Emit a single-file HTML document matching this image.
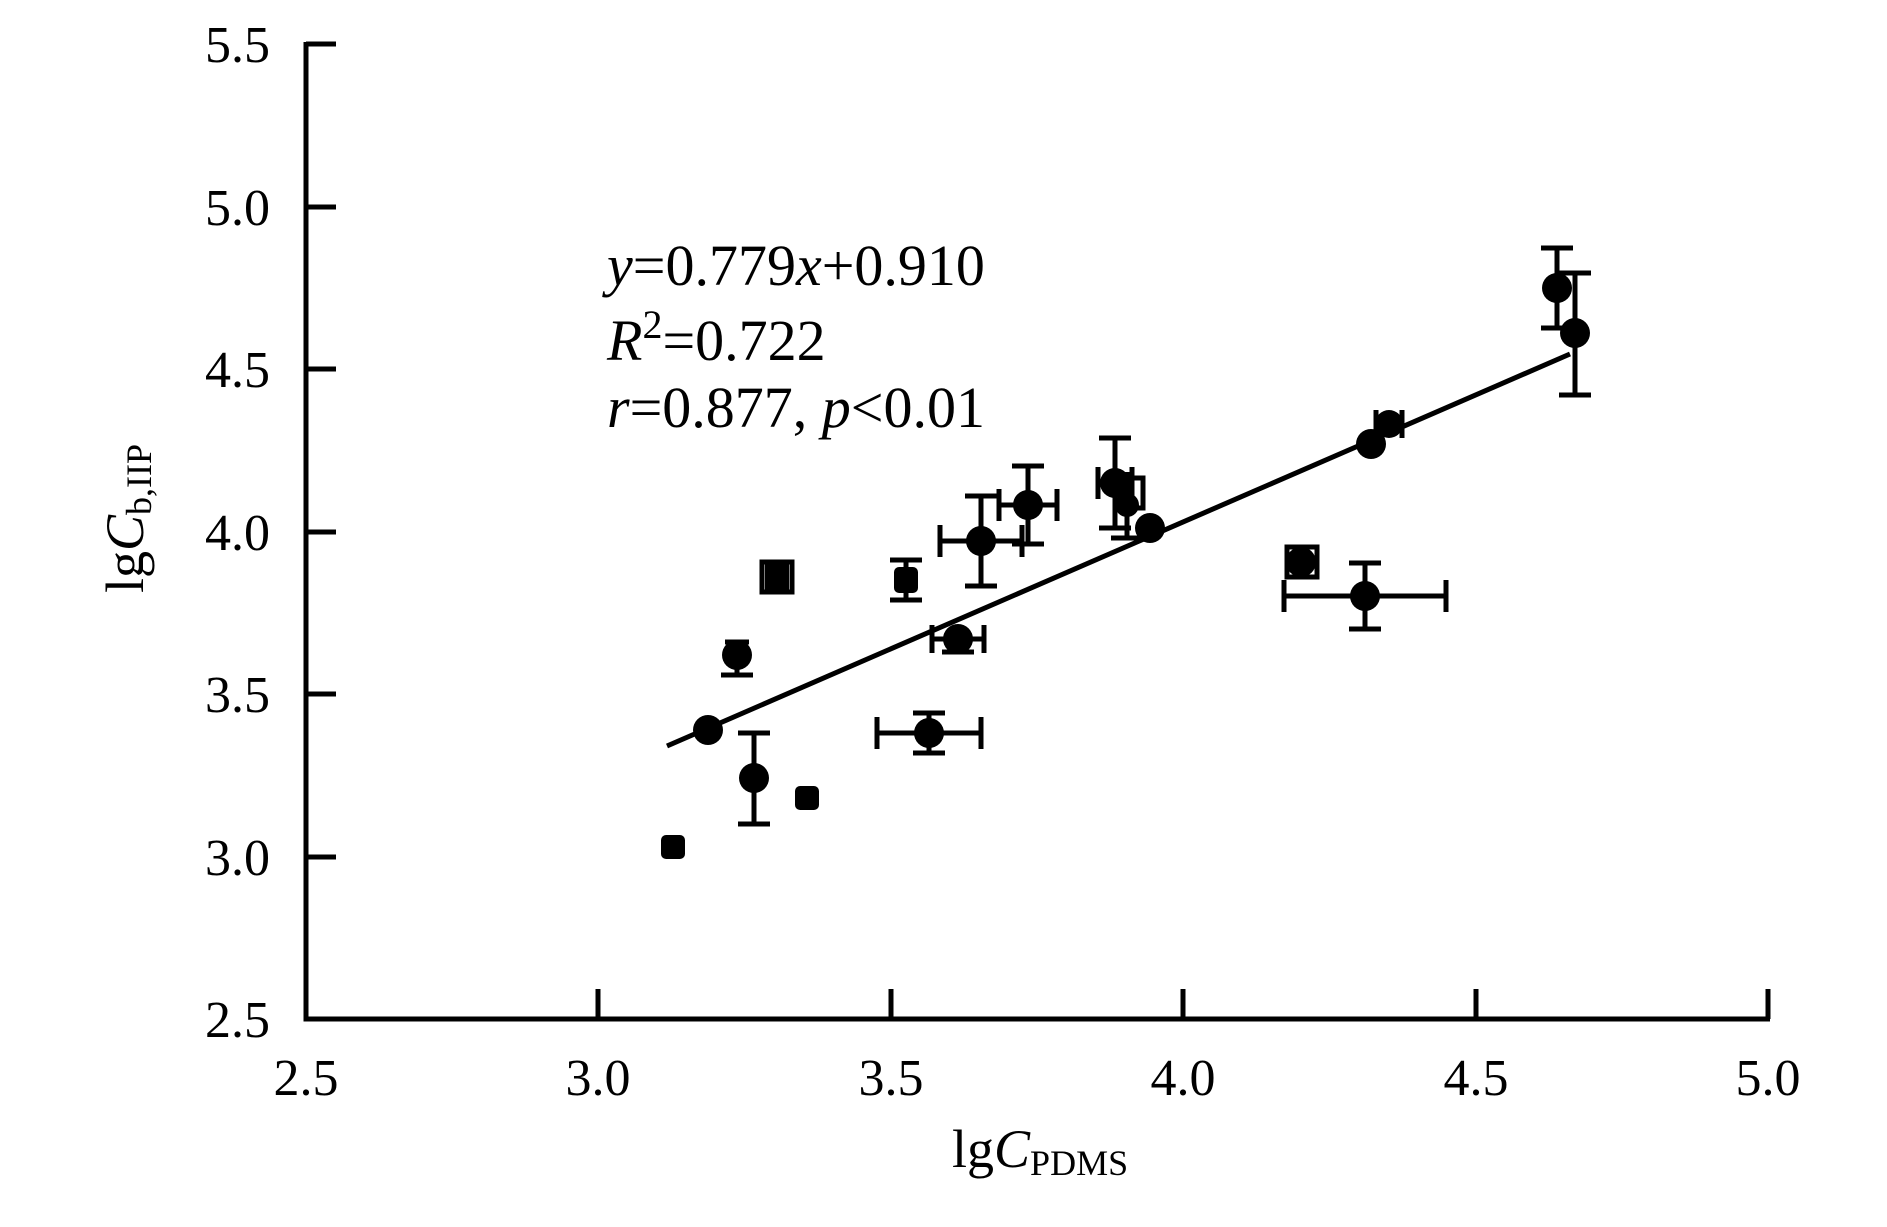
<!DOCTYPE html>
<html><head><meta charset="utf-8"><style>
html,body{margin:0;padding:0;background:#fff;}
svg{display:block;}
text{font-family:"Liberation Serif",serif;fill:#000;}
</style></head><body>
<svg width="1887" height="1227" viewBox="0 0 1887 1227">
<g stroke="#000" stroke-width="5" fill="none">
<path d="M306,42 V1019 H1770"/>
<path d="M306,44 H336 M306,207 H336 M306,369 H336 M306,532 H336 M306,694 H336 M306,857 H336"/>
<path d="M598,1019 V989 M891,1019 V989 M1183,1019 V989 M1476,1019 V989 M1768,1019 V989"/>
</g>
<g>
<g stroke="#000" stroke-width="5" fill="none">
<path d="M667,746 L1570,354"/>
<path d="M754,733 V824 M738,733 H770 M738,824 H770"/>
<path d="M737,642 V675 M721,675 H753 M725,642 H749"/>
<path d="M906,560 V600 M890,560 H922 M890,600 H922"/>
<path d="M877,733 H981 M877,717 V749 M981,717 V749 M929,713 V753 M913,713 H945 M913,753 H945"/>
<path d="M932,639 H984 M932,625 V653 M984,625 V653 M958,626 V652 M942,652 H974"/>
<path d="M940,541 H1022 M940,525 V557 M1022,525 V557 M981,496 V586 M965,496 H997 M965,586 H997"/>
<path d="M999,505 H1057 M999,489 V521 M1057,489 V521 M1028,466 V544 M1012,466 H1044 M1012,544 H1044"/>
<path d="M1098,483 H1132 M1098,467 V499 M1132,467 V499 M1115,438 V528 M1099,438 H1131 M1099,528 H1131"/>
<path d="M1127,472 V538 M1111,538 H1143"/>
<path d="M1284,596 H1446 M1284,580 V612 M1446,580 V612 M1365,563 V629 M1349,563 H1381 M1349,629 H1381"/>
<path d="M1376,424 H1402 M1376,410 V438 M1402,410 V438"/>
<path d="M1557,248 V328 M1541,248 H1573 M1541,328 H1573"/>
<path d="M1575,273 V395 M1559,273 H1591 M1559,395 H1591"/>
<rect x="762" y="562" width="30" height="30"/>
<rect x="1287" y="547" width="30" height="30"/>
<rect x="1121" y="478" width="22" height="30"/>
</g>
<g fill="#000">
<rect x="661" y="835" width="24" height="24" rx="5"/>
<circle cx="708" cy="730" r="15"/>
<circle cx="754" cy="778" r="15"/>
<rect x="795" y="786" width="24" height="24" rx="5"/>
<circle cx="737" cy="655" r="15"/>
<rect x="765" y="564" width="24" height="26"/>
<rect x="894" y="567" width="24" height="26" rx="5"/>
<circle cx="929" cy="733" r="15"/>
<circle cx="958" cy="639" r="15"/>
<circle cx="981" cy="541" r="15"/>
<circle cx="1028" cy="505" r="15"/>
<circle cx="1115" cy="483" r="15"/>
<circle cx="1127" cy="505" r="12"/>
<circle cx="1150" cy="528" r="15"/>
<circle cx="1301" cy="562" r="15"/>
<circle cx="1365" cy="596" r="15"/>
<circle cx="1371" cy="444" r="15"/>
<circle cx="1389" cy="424" r="14"/>
<circle cx="1557" cy="288" r="15"/>
<circle cx="1575" cy="333" r="15"/>
</g>
</g>
<g font-size="52" text-anchor="end">
<text x="270" y="62">5.5</text>
<text x="270" y="225">5.0</text>
<text x="270" y="387">4.5</text>
<text x="270" y="550">4.0</text>
<text x="270" y="712">3.5</text>
<text x="270" y="875">3.0</text>
<text x="270" y="1037">2.5</text>
</g>
<g font-size="52" text-anchor="middle">
<text x="306" y="1095">2.5</text>
<text x="598" y="1095">3.0</text>
<text x="891" y="1095">3.5</text>
<text x="1183" y="1095">4.0</text>
<text x="1476" y="1095">4.5</text>
<text x="1768" y="1095">5.0</text>
</g>
<g font-size="58">
<text x="607" y="285"><tspan font-style="italic">y</tspan>=0.779<tspan font-style="italic">x</tspan>+0.910</text>
<text x="607" y="360"><tspan font-style="italic">R</tspan><tspan font-size="40" dy="-22">2</tspan><tspan dy="22">=0.722</tspan></text>
<text x="607" y="427"><tspan font-style="italic">r</tspan>=0.877,  <tspan font-style="italic">p</tspan>&lt;0.01</text>
</g>
<text x="952" y="1167" font-size="54">lg<tspan font-style="italic">C</tspan><tspan font-size="36" dy="8">PDMS</tspan></text>
<text transform="translate(143,593) rotate(-90)" font-size="54">lg<tspan font-style="italic">C</tspan><tspan font-size="36" dy="8">b,IIP</tspan></text>
</svg>
</body></html>
